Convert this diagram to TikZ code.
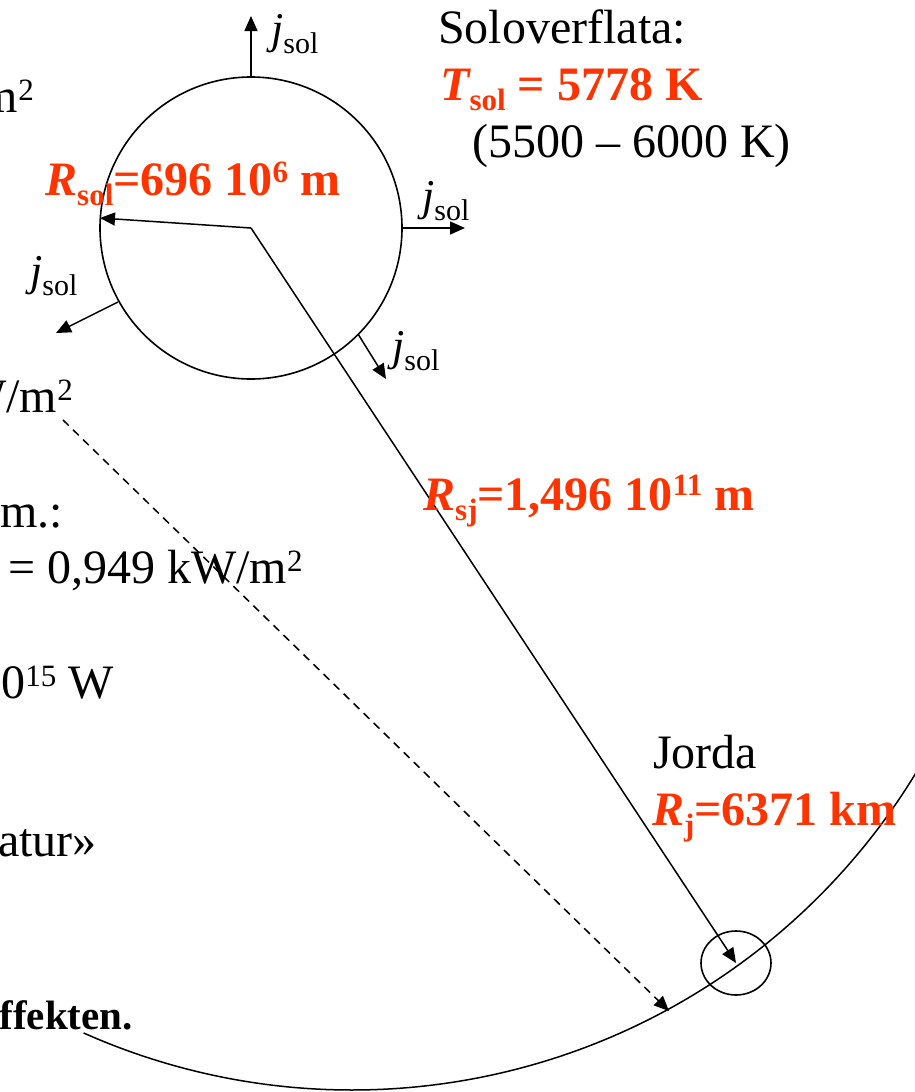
\documentclass[tikz,border=0pt]{standalone}
\usepackage{fontspec}
\setmainfont{Liberation Serif}
\usetikzlibrary{arrows.meta,shapes.geometric}
\definecolor{solred}{RGB}{255,51,0}
\newcommand{\bigf}{\fontsize{48}{57}\selectfont}
\newcommand{\smf}{\fontsize{31}{36}\selectfont}
\newcommand{\lowr}[1]{\raisebox{-10pt}{\smf #1}}
\newcommand{\upr}[2][13pt]{\raisebox{#1}{\smf #2}}
\newcommand{\jsol}{{\fontsize{44}{50}\selectfont\itshape j}\raisebox{-10pt}{\fontsize{30}{34}\selectfont sol}}
\tikzset{
  lbl/.style={inner sep=0pt, anchor=base west, font=\bigf},
  lble/.style={inner sep=0pt, anchor=base east, font=\bigf},
  redlbl/.style={lbl, text=solred, font=\bigf\bfseries},
  jlbl/.style={inner sep=0pt, anchor=base west},
  ln/.style={line width=1.5pt},
  arr/.style={ln, -{Triangle[length=15pt,width=13pt]}},
  dasharr/.style={arr, dash pattern=on 8pt off 6pt}
}
\begin{document}
\begin{tikzpicture}[x=1pt,y=-1pt]
\useasboundingbox (0,0) rectangle (915,1092);
\clip (0,0) rectangle (915,1092);
% Sun
\node[draw, circle, minimum size=302pt, inner sep=0pt, line width=1.6pt] (sun) at (251,228) {};
% Earth
\node[draw, ellipse, minimum width=70pt, minimum height=64pt, inner sep=0pt, line width=1.6pt] (earth) at (736,963) {};
% orbit
\draw[ln] (352,430) ++(114:660) arc[start angle=114, end angle=20, radius=660];
% coordinates
\coordinate (rsolTip) at (100,218);
\coordinate (jtS) at (251,77);  \coordinate (jtE) at (251,16);
\coordinate (jrS) at (403,228); \coordinate (jrE) at (465,228);
\coordinate (jlS) at (118,302); \coordinate (jlE) at (56,333);
\coordinate (jbS) at (358,334); \coordinate (jbE) at (386,379);
\coordinate (dS) at (63,420);   \coordinate (dE) at (669,1011);
% connectors
\draw[arr] (sun.center) -- (rsolTip);
\draw[arr] (sun.center) -- (earth.center);
\draw[arr] (jtS) -- (jtE);
\draw[arr] (jrS) -- (jrE);
\draw[arr] (jlS) -- (jlE);
\draw[arr] (jbS) -- (jbE);
\draw[dasharr] (dS) -- (dE);
% j_sol labels
\node[jlbl] (j1) at (271,43) {\jsol};
\node[jlbl] (j2) at (422,210) {\jsol};
\node[jlbl] (j3) at (30,285) {\jsol};
\node[jlbl] (j4) at (392,360) {\jsol};
% right texts
\node[lbl] (solov) at (438,43) {Soloverflata:};
\node[redlbl] (tsol) at (440,100) {{\itshape T}\lowr{sol} = 5778 K};
\node[lbl] (range) at (472,157) {(5500 – 6000 K)};
\node[redlbl] (rsol) at (45,195) {{\itshape R}\lowr{sol}=696 10\upr{6} m};
\node[redlbl] (rsj) at (423,510) {{\itshape R}\lowr{sj}=1,496 10\upr[15pt]{11} m};
\node[lbl] (jorda) at (653,768) {Jorda};
\node[redlbl] (rj) at (652,825) {{\itshape R}\lowr{j}=6371 km};
% left cut-off texts
\node[lble] (t1) at (34,112) {m\upr[12pt]{2}};
\node[lble] (t2) at (73,412) {W/m\upr[12pt]{2}};
\node[lble] (t3) at (63,527) {tm.:};
\node[lbl] (t4) at (8,583) {= 0,949 kW/m\upr[12pt]{2}};
\node[lble] (t5) at (114,698) {10\upr[12pt]{15} W};
\node[lble] (t6) at (97,856) {atur»};
\node[lble, font=\fontsize{41}{48}\selectfont\bfseries] (t7) at (133,1029) {ffekten.};
\end{tikzpicture}
\end{document}
